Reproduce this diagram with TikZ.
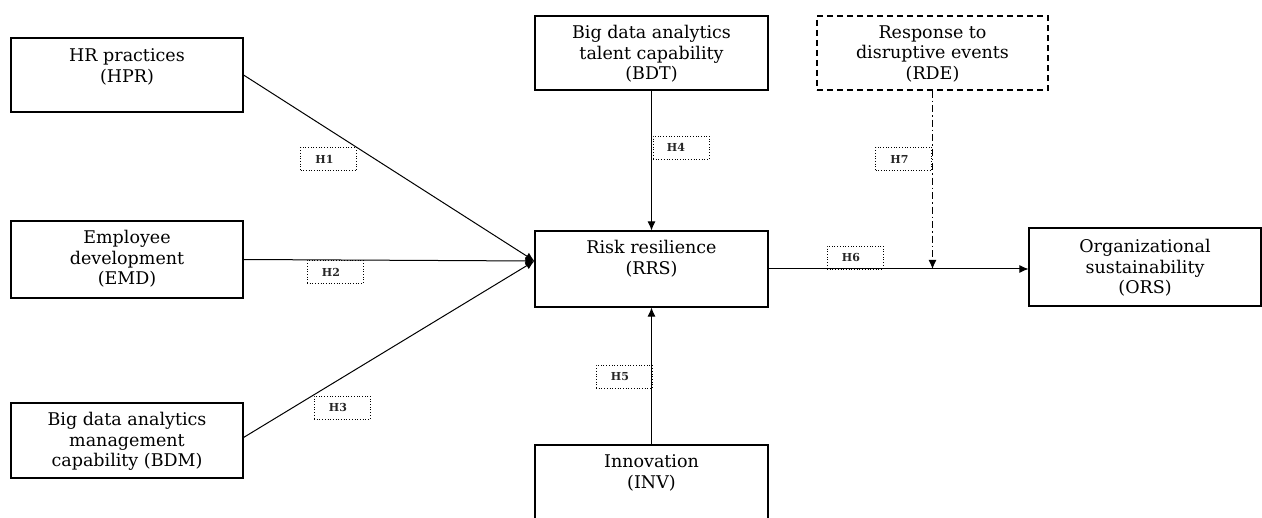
\documentclass[tikz,border=0pt]{standalone}
\usepackage{fontspec}
\setmainfont{DejaVu Serif}
\usetikzlibrary{arrows.meta}
\begin{document}
\begin{tikzpicture}[x=1pt,y=-1pt,
  boxshape/.style={draw, line width=1.1pt, inner sep=0pt},
  dashbox/.style={draw, line width=1.1pt, inner sep=0pt, dash pattern=on 6pt off 4pt},
  txt/.style={inner sep=0pt, align=center, font=\fontsize{17.5}{20.5}\selectfont},
  hbox/.style={draw, line width=0.7pt, dotted, inner sep=0pt, minimum width=56pt, minimum height=23pt},
  htxt/.style={inner sep=0pt, font=\bfseries\fontsize{11}{12}\selectfont, text=black!85},
  conn/.style={line width=1pt, -{Latex[length=9pt,width=8pt]}},
  modconn/.style={line width=1pt, dash pattern=on 7pt off 3pt on 1.5pt off 3pt, -{Latex[length=9pt,width=8pt]}}
]
\useasboundingbox (0,0) rectangle (1262,518);

% boxes
\node[boxshape, minimum width=232pt, minimum height=74pt] (hpr) at (127,75) {};
\node[boxshape, minimum width=232pt, minimum height=77pt] (emd) at (127,259.5) {};
\node[boxshape, minimum width=232pt, minimum height=75pt] (bdm) at (127,440.5) {};
\node[boxshape, minimum width=233pt, minimum height=74pt] (bdt) at (651.5,53) {};
\node[dashbox, minimum width=231pt, minimum height=74pt] (rde) at (932.5,53) {};
\node[boxshape, minimum width=233pt, minimum height=76pt] (rrs) at (651.5,269) {};
\node[boxshape, minimum width=232pt, minimum height=78pt] (ors) at (1145,267) {};
\node[boxshape, minimum width=233pt, minimum height=90pt] (inv) at (651.5,490) {};

% texts
\node[txt, anchor=north] (hprt) at ([yshift=-11pt]hpr.north) {HR practices\\(HPR)};
\node[txt, anchor=north] (emdt) at ([yshift=-10pt]emd.north) {Employee\\development\\(EMD)};
\node[txt, anchor=north] (bdmt) at ([yshift=-10pt]bdm.north) {Big data analytics\\management\\capability (BDM)};
\node[txt, anchor=north] (bdtt) at ([yshift=-10pt]bdt.north) {Big data analytics\\talent capability\\(BDT)};
\node[txt, anchor=north] (rdet) at ([yshift=-10pt]rde.north) {Response to\\disruptive events\\(RDE)};
\node[txt, anchor=north] (rrst) at ([yshift=-10pt]rrs.north) {Risk resilience\\(RRS)};
\node[txt, anchor=north] (orst) at ([yshift=-12pt]ors.north) {Organizational\\sustainability\\(ORS)};
\node[txt, anchor=north] (invt) at ([yshift=-10pt]inv.north) {Innovation\\(INV)};

% connectors
\coordinate (conv) at ([yshift=8pt]rrs.west);
\draw[conn] (hpr.east) -- (conv);
\draw[conn] (emd.east) -- (conv);
\draw[conn] ([yshift=3pt]bdm.east) -- (conv);
\draw[conn] (bdt.south) -- (rrs.north);
\draw[conn] (inv.north) -- (rrs.south);
\coordinate (orsin) at (rrs.east -| ors.west);
\draw[conn] (rrs.east) -- (orsin);
\coordinate (mod) at (rde.south |- rrs.east);
\draw[modconn] (rde.south) -- (mod);

% hypothesis labels
\node[hbox] (h1) at (328.5,159) {};
\node[htxt] (h1t) at ([xshift=-4pt]h1.center) {H1};
\node[hbox] (h2) at (335,272) {};
\node[htxt] (h2t) at ([xshift=-4pt]h2.center) {H2};
\node[hbox] (h3) at (342,407.5) {};
\node[htxt] (h3t) at ([xshift=-4pt]h3.center) {H3};
\node[hbox] (h4) at (681,147.5) {};
\node[htxt] (h4t) at ([xshift=-5pt]h4.center) {H4};
\node[hbox] (h5) at (624,377) {};
\node[htxt] (h5t) at ([xshift=-4pt]h5.center) {H5};
\node[hbox] (h6) at (855,257.5) {};
\node[htxt] (h6t) at ([xshift=-4pt]h6.center) {H6};
\node[hbox] (h7) at (903.5,159) {};
\node[htxt] (h7t) at ([xshift=-4pt]h7.center) {H7};
\end{tikzpicture}
\end{document}
